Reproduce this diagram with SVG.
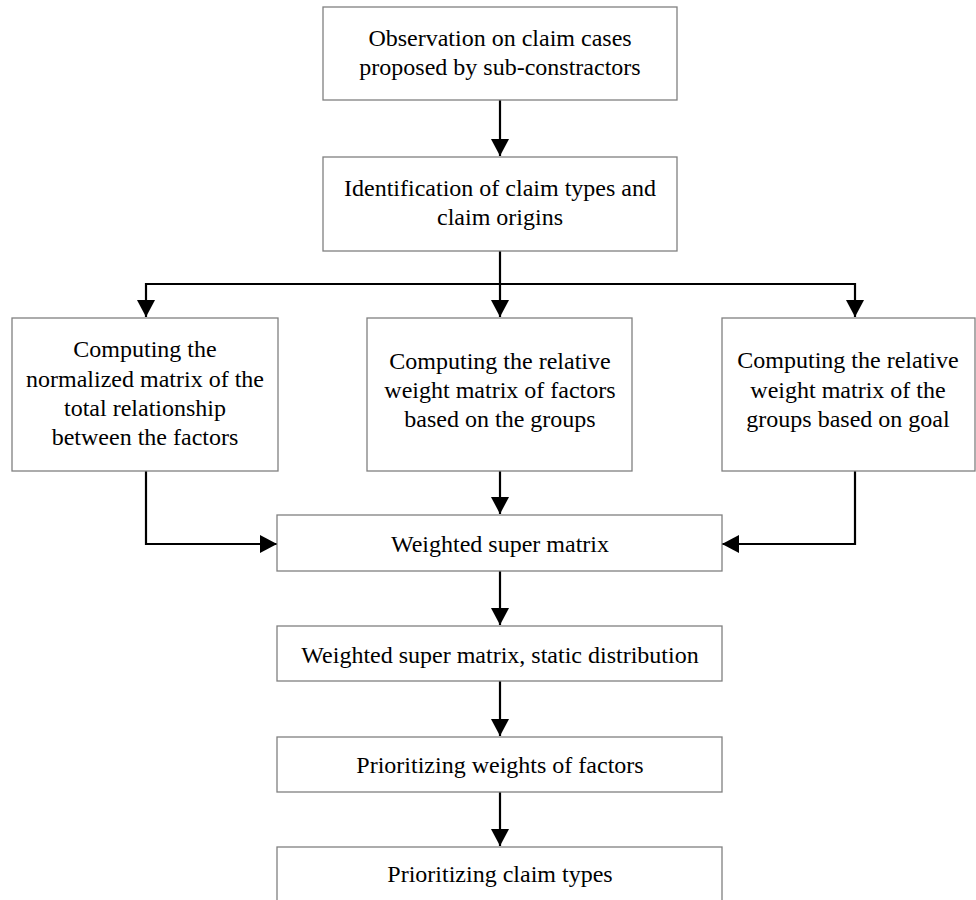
<svg xmlns="http://www.w3.org/2000/svg" width="976" height="900" viewBox="0 0 976 900">
<style>
.box{fill:#fff;stroke:#808080;stroke-width:1.3}
.t{font-family:"Liberation Serif","Times New Roman",serif;font-size:24px;fill:#000;text-anchor:middle}
.c{fill:none;stroke:#000;stroke-width:2.2}
</style>
<defs>
<marker id="ah" markerUnits="userSpaceOnUse" markerWidth="18" markerHeight="18" viewBox="0 0 18 18" refX="17" refY="9" orient="auto">
<path d="M0,0 L17,9 L0,18 Z" fill="#000"/>
</marker>
</defs>
<rect width="976" height="900" fill="#fff"/>
<g id="connectors">
<path class="c" d="M500,100 V156" marker-end="url(#ah)"/>
<path class="c" d="M500,251 V317" marker-end="url(#ah)"/>
<path class="c" d="M146,284 H855"/>
<path class="c" d="M146,283 V317" marker-end="url(#ah)"/>
<path class="c" d="M855,283 V317" marker-end="url(#ah)"/>
<path class="c" d="M146,471 V544 H277" marker-end="url(#ah)"/>
<path class="c" d="M855,471 V544 H722" marker-end="url(#ah)"/>
<path class="c" d="M500,471 V514" marker-end="url(#ah)"/>
<path class="c" d="M500,571 V625" marker-end="url(#ah)"/>
<path class="c" d="M500,681 V736" marker-end="url(#ah)"/>
<path class="c" d="M500,792 V846" marker-end="url(#ah)"/>
</g>
<g id="n1"><rect class="box" x="323" y="7" width="354" height="93"/>
<text class="t" x="500" y="46">Observation on claim cases</text>
<text class="t" x="500" y="75">proposed by sub-constractors</text></g>
<g id="n2"><rect class="box" x="323" y="157" width="354" height="94"/>
<text class="t" x="500" y="196">Identification of claim types and</text>
<text class="t" x="500" y="225">claim origins</text></g>
<g id="n3"><rect class="box" x="12" y="318" width="266" height="153"/>
<text class="t" x="145" y="357">Computing the</text>
<text class="t" x="145" y="387">normalized matrix of the</text>
<text class="t" x="145" y="416">total relationship</text>
<text class="t" x="145" y="445">between the factors</text></g>
<g id="n4"><rect class="box" x="367" y="318" width="265" height="153"/>
<text class="t" x="500" y="369">Computing the relative</text>
<text class="t" x="500" y="398">weight matrix of factors</text>
<text class="t" x="500" y="427">based on the groups</text></g>
<g id="n5"><rect class="box" x="722" y="318" width="253" height="153"/>
<text class="t" x="848" y="368">Computing the relative</text>
<text class="t" x="848" y="398">weight matrix of the</text>
<text class="t" x="848" y="427">groups based on goal</text></g>
<g id="n6"><rect class="box" x="277" y="515" width="445" height="56"/>
<text class="t" x="500" y="552">Weighted super matrix</text></g>
<g id="n7"><rect class="box" x="277" y="626" width="445" height="55"/>
<text class="t" x="500" y="663">Weighted super matrix, static distribution</text></g>
<g id="n8"><rect class="box" x="277" y="737" width="445" height="55"/>
<text class="t" x="500" y="773">Prioritizing weights of factors</text></g>
<g id="n9"><rect class="box" x="277" y="847" width="445" height="60"/>
<text class="t" x="500" y="882">Prioritizing claim types</text></g>
</svg>
